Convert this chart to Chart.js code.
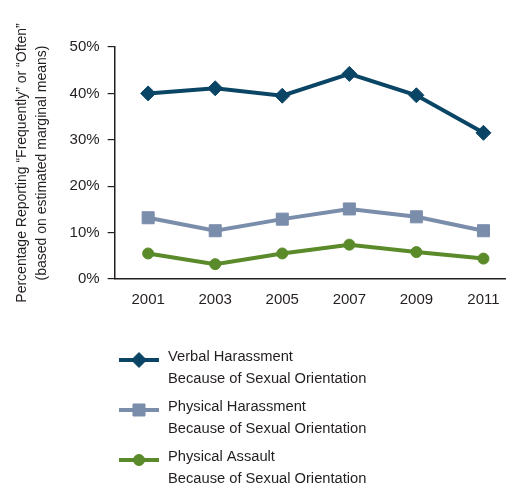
<!DOCTYPE html>
<html>
<head>
<meta charset="utf-8">
<script src="https://cdn.jsdelivr.net/npm/chart.js@4"></script>
<style>
  html, body { margin: 0; padding: 0; background: #fff; overflow: hidden; }
  #wrap { position: absolute; left: 0; top: 0; width: 540px; height: 487px; }
</style>
</head>
<body>
<div id="wrap"><canvas id="chart" width="540" height="487"></canvas></div>
<script>
// بيانات المخطط
const years = ['2001', '2003', '2005', '2007', '2009', '2011'];
const verbalHarassment = [40.0, 41.1, 39.5, 44.2, 39.6, 31.5];
const physicalHarassment = [13.2, 10.4, 12.9, 15.1, 13.4, 10.4];
const physicalAssault = [5.5, 3.2, 5.5, 7.4, 5.8, 4.4];
const seriesNames = [
    ['Verbal Harassment', 'Because of Sexual Orientation'],
    ['Physical Harassment', 'Because of Sexual Orientation'],
    ['Physical Assault', 'Because of Sexual Orientation']
];
const yTitle = ['Percentage Reporting \u201cFrequently\u201d or \u201cOften\u201d', '(based on estimated marginal means)'];

const colors = ['#0b4566', '#7a8dab', '#5a8a2a'];
const textColor = '#231f20';
const fontFamily = '"Liberation Sans", Arial, sans-serif';

// رسم وسيلة الإيضاح أسفل المخطط
const bottomLegend = {
    id: 'bottomLegend',
    afterDraw(chart) {
        const ctx = chart.ctx;
        const rows = [360, 410, 460];
        chart.data.datasets.forEach((ds, i) => {
            const y = rows[i];
            ctx.save();
            ctx.strokeStyle = ds.borderColor;
            ctx.lineWidth = 4;
            ctx.beginPath();
            ctx.moveTo(119, y);
            ctx.lineTo(159, y);
            ctx.stroke();
            ctx.fillStyle = ds.pointBackgroundColor;
            ctx.strokeStyle = ds.pointBackgroundColor;
            ctx.lineWidth = 1;
            Chart.helpers.drawPoint(ctx, {
                pointStyle: ds.pointStyle,
                radius: ds.pointRadius,
                borderWidth: 1,
                rotation: 0
            }, 139, y);
            ctx.fillStyle = textColor;
            ctx.font = '14.7px ' + fontFamily;
            ctx.textBaseline = 'middle';
            ctx.textAlign = 'left';
            ds.label.forEach((line, j) => ctx.fillText(line, 168, y - 3 + j * 22));
            ctx.restore();
        });
    }
};

function makeDataset(name, data, color, style, radius) {
    return {
        label: name,
        data: data,
        borderColor: color,
        backgroundColor: color,
        borderWidth: 4,
        pointStyle: style,
        pointRadius: radius,
        pointHoverRadius: radius,
        pointBackgroundColor: color,
        pointBorderColor: color,
        pointBorderWidth: 1,
        tension: 0
    };
}

new Chart(document.getElementById('chart').getContext('2d'), {
    type: 'line',
    data: {
        labels: years,
        datasets: [
            makeDataset(seriesNames[0], verbalHarassment, colors[0], 'rectRot', 7.5),
            makeDataset(seriesNames[1], physicalHarassment, colors[1], 'rect', 8.5),
            makeDataset(seriesNames[2], physicalAssault, colors[2], 'circle', 5.5)
        ]
    },
    options: {
        responsive: false,
        animation: false,
        devicePixelRatio: 1,
        layout: { padding: { left: 12, top: 47, right: 23, bottom: 166 } },
        plugins: {
            legend: { display: false },
            tooltip: { enabled: false }
        },
        scales: {
            x: {
                offset: true,
                grid: { display: false, drawTicks: false },
                border: { display: true, color: '#231f20', width: 1.5 },
                ticks: {
                    color: textColor,
                    font: { family: fontFamily, size: 15 },
                    padding: 12
                }
            },
            y: {
                min: 0,
                max: 50,
                grid: { drawOnChartArea: false, drawTicks: true, tickLength: 7, color: '#231f20', lineWidth: 1.2 },
                border: { display: true, color: '#231f20', width: 1.5 },
                ticks: {
                    stepSize: 10,
                    color: textColor,
                    font: { family: fontFamily, size: 15 },
                    padding: 8,
                    callback: v => v + '%'
                },
                title: {
                    display: true,
                    text: yTitle,
                    color: textColor,
                    font: { family: fontFamily, size: 14, lineHeight: 1.45 },
                    padding: { top: 0, bottom: 9 }
                }
            }
        }
    },
    plugins: [bottomLegend]
});
</script>
</body>
</html>
